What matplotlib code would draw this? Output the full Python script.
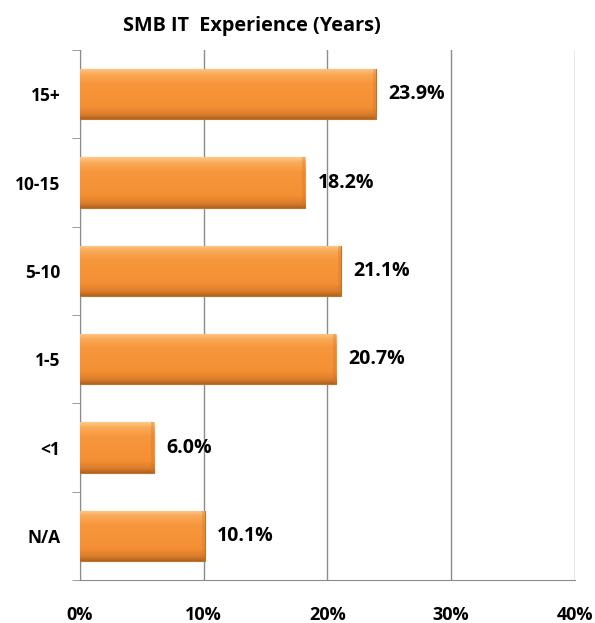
import numpy as np
import matplotlib.pyplot as plt
from matplotlib.colors import LinearSegmentedColormap

categories = ["N/A", "<1", "1-5", "5-10", "10-15", "15+"]
values = [10.1, 6.0, 20.7, 21.1, 18.2, 23.9]
xticks = [0, 10, 20, 30, 40]

plt.rcParams['font.family'] = ['Open Sans', 'DejaVu Sans']

fig = plt.figure(figsize=(5.95, 6.23), dpi=100)
ax = fig.add_axes([0.1345, 0.069, 0.8315, 0.8507])

y = np.arange(len(categories))
bars = ax.barh(y, values, height=0.57, color='#F7963C', edgecolor='#C0712A', linewidth=0.8, zorder=3)

# vertical gradient to get the bevelled look (top -> bottom)
cmap = LinearSegmentedColormap.from_list(
    'bev', [(0, '#FCCB8A'), (0.12, '#FAA855'), (0.3, '#F7963C'),
            (0.75, '#F48F34'), (0.9, '#DE7E2C'), (1, '#B0631F')])
grad = np.linspace(0, 1, 256).reshape(-1, 1)
for b in bars:
    x0, y0 = b.get_x(), b.get_y()
    w, h = b.get_width(), b.get_height()
    im = ax.imshow(grad, cmap=cmap, aspect='auto', extent=[x0, x0 + w, y0, y0 + h],
                   origin='upper', zorder=3.5)
    im.set_clip_path(b)
    # slightly darker right end
    ax.barh(y0 + h / 2, 0.25, left=x0 + w - 0.25, height=h, color='#C8732A', alpha=0.3,
            linewidth=0, zorder=3.6)

for yi, v in zip(y, values):
    ax.text(v + 1.0, yi, f"{v:.1f}%", va='center', ha='left', fontsize=14, fontweight='bold', zorder=5)

ax.set_xlim(0, 40)
ax.set_ylim(-0.5, len(categories) - 0.5)
ax.set_xticks(xticks)
ax.set_xticklabels([f"{t}%" for t in xticks], fontsize=13, fontweight='bold')
ax.set_yticks(y)
ax.set_yticklabels(categories, fontsize=12.5, fontweight='bold')
ax.tick_params(axis='y', length=0, pad=14)
ax.tick_params(axis='x', length=0, pad=19)

# boundary ticks on the y axis and x axis
ax.set_yticks(np.arange(-0.5, len(categories)), minor=True)
ax.set_xticks(xticks, minor=True)
ax.tick_params(axis='y', which='minor', length=6, color='#8C8C8C', direction='out')
ax.tick_params(axis='x', which='minor', length=6, color='#8C8C8C', direction='out')

ax.grid(axis='x', color='#8C8C8C', linewidth=1, zorder=0)
for s in ['top', 'right']:
    ax.spines[s].set_visible(False)
for s in ['left', 'bottom']:
    ax.spines[s].set_color('#8C8C8C')

fig.text(0.4235, 0.958, "SMB IT  Experience (Years)", ha='center', va='center', fontsize=14.3, fontweight='bold')

fig.savefig('out.png', dpi=100)
